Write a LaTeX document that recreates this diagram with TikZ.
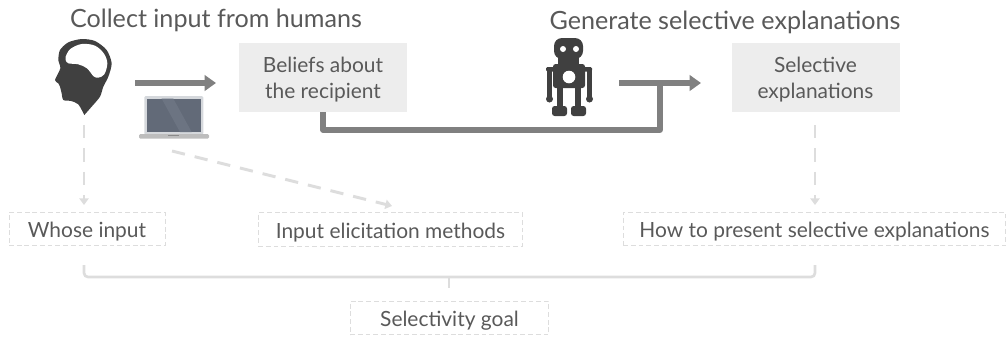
\documentclass[tikz,border=0pt]{standalone}
\usepackage{fontspec}
\setmainfont{Lato}
\usetikzlibrary{arrows.meta}
\definecolor{txt}{HTML}{595959}
\definecolor{boxfill}{HTML}{EDEDED}
\definecolor{flow}{HTML}{808080}
\definecolor{faint}{HTML}{DDDDDD}
\definecolor{ink}{HTML}{404040}
\definecolor{lapbezel}{HTML}{D5D8DC}
\definecolor{lapscreen}{HTML}{626A78}
\definecolor{lapshine}{HTML}{6C7482}
\definecolor{lapbase}{HTML}{BDBDBD}
\definecolor{lapnotch}{HTML}{8A8A8A}
\tikzset{
  x=0.75pt,y=-0.75pt,
  titletext/.style={text=txt,font=\fontsize{18.85}{23}\selectfont,inner sep=0pt,anchor=center},
  filledbox/.style={fill=boxfill,text=txt,font=\fontsize{15.7}{19.5}\selectfont,align=center,inner sep=0pt,minimum width=126pt,minimum height=51.75pt},
  dashbox/.style={draw=faint,line width=0.75pt,dash pattern=on 3.6pt off 2.2pt,text=txt,font=\fontsize{15.7}{19}\selectfont,inner sep=0pt,minimum height=25pt,text height=13pt,text depth=0pt},
  flowline/.style={draw=flow,line width=3.8pt},
  flowarrow/.style={flowline,-{Triangle[length=8.5pt,width=11.5pt]}},
  faintarrow/.style={draw=faint,line width=2.2pt,dash pattern=on 10pt off 7.5pt,-{Triangle[length=5pt,width=7pt]}},
  bracket/.style={draw=faint,line width=2pt,rounded corners=3pt},
}
\newcommand{\topstrut}{\rule{0pt}{15pt}}
\begin{document}
\begin{tikzpicture}
\useasboundingbox (0,0) rectangle (1007,337);
\node[titletext] (t1) at (216,20) {Collect input from humans};
\node[titletext] (t2) at (725,22) {Generate selective explanations};
\node[filledbox] (beliefs) at (323,77.5) {\topstrut Beliefs about\\the recipient};
\node[filledbox] (selective) at (815.5,77.5) {\topstrut Selective\\explanations};
\node[dashbox,minimum width=117pt] (whose) at (87,229) {Whose input};
\node[dashbox,minimum width=198.5pt] (elicit) at (390.5,229.5) {Input elicitation methods};
\node[dashbox,minimum width=287pt] (how) at (814.5,229) {How to present selective explanations};
\node[dashbox,minimum width=149pt] (goal) at (449.5,318) {Selectivity goal};
% head
\begin{scope}[shift={(45,35)},x=0.25pt,y=-0.25pt]
\coordinate (head) at (118,240);
\fill[ink] plot[smooth,tension=0.45] coordinates {(118,240) (100,208) (78,198) (55,195) (50,175) (45,155) (40,145) (30,135) (46,100) (40,75) (45,45) (70,22) (110,12) (150,18) (185,45) (200,85) (190,125) (175,155) (165,185) (140,215) (118,240)} -- cycle;
\fill[white] plot[smooth cycle,tension=0.55] coordinates {(62,65) (76,42) (110,27) (150,32) (177,56) (187,85) (178,118) (160,128) (146,124) (126,100) (100,88) (70,85) (62,75)};
\end{scope}
% laptop
\begin{scope}[shift={(135,90)},x=0.25pt,y=-0.25pt]
\coordinate (laptop) at (111,184);
\fill[lapbezel,rounded corners=1pt] (28,18) rectangle (205,134);
\fill[lapscreen] (36,26) rectangle (198,126);
\fill[lapshine] (80,26) -- (115,26) -- (170,126) -- (135,126) -- cycle;
\fill[lapbase,rounded corners=1pt] (12,132) rectangle (222,146);
\fill[lapnotch] (100,134) rectangle (132,138);
\end{scope}
% robot
\begin{scope}[ink]
\fill[rounded corners=2pt] (553,64) rectangle (585,88);
\fill[rounded corners=1pt] (546,67) rectangle (592,71.5);
\fill (547,70) rectangle (552,97);
\fill (587,70) rectangle (592,97);
\fill (549.5,99) circle[radius=3.5];
\fill (589.5,99) circle[radius=3.5];
\fill (557,88) rectangle (563,108);
\fill (575,88) rectangle (581,108);
\fill[rounded corners=2pt] (552,106) rectangle (567,116);
\fill[rounded corners=2pt] (571,106) rectangle (586,116);
\fill[rounded corners=6pt] (554,38) rectangle (583,59);
\fill (558,57) rectangle (579,66);
\fill[white] (563,49) circle[radius=3];
\fill[white] (576,49) circle[radius=3];
\fill[white] (569,77) circle[radius=6.3];
\end{scope}
% connectors
\coordinate (a1s) at (135,83); \coordinate (a1e) at (216,83);
\draw[flowarrow] (a1s) -- (a1e);
\coordinate (a2s) at (619,83); \coordinate (a2e) at (701,83);
\draw[flowarrow] (a2s) -- (a2e);
\coordinate (join) at (660,83);
\draw[flowline,line join=round] (beliefs.south) |- (660,130) -- (join);
\draw[faintarrow] (84,125) -- (84,205);
\draw[faintarrow] (172,151) -- (392,206);
\draw[faintarrow] (815,125) -- (815,205);
\coordinate (bl) at (84,265); \coordinate (br) at (815,265); \coordinate (bm) at (449,277);
\draw[bracket] (bl) |- (bm) -| (br);
\draw[draw=faint,line width=2pt] (bm) -- (449,288);
\end{tikzpicture}
\end{document}
